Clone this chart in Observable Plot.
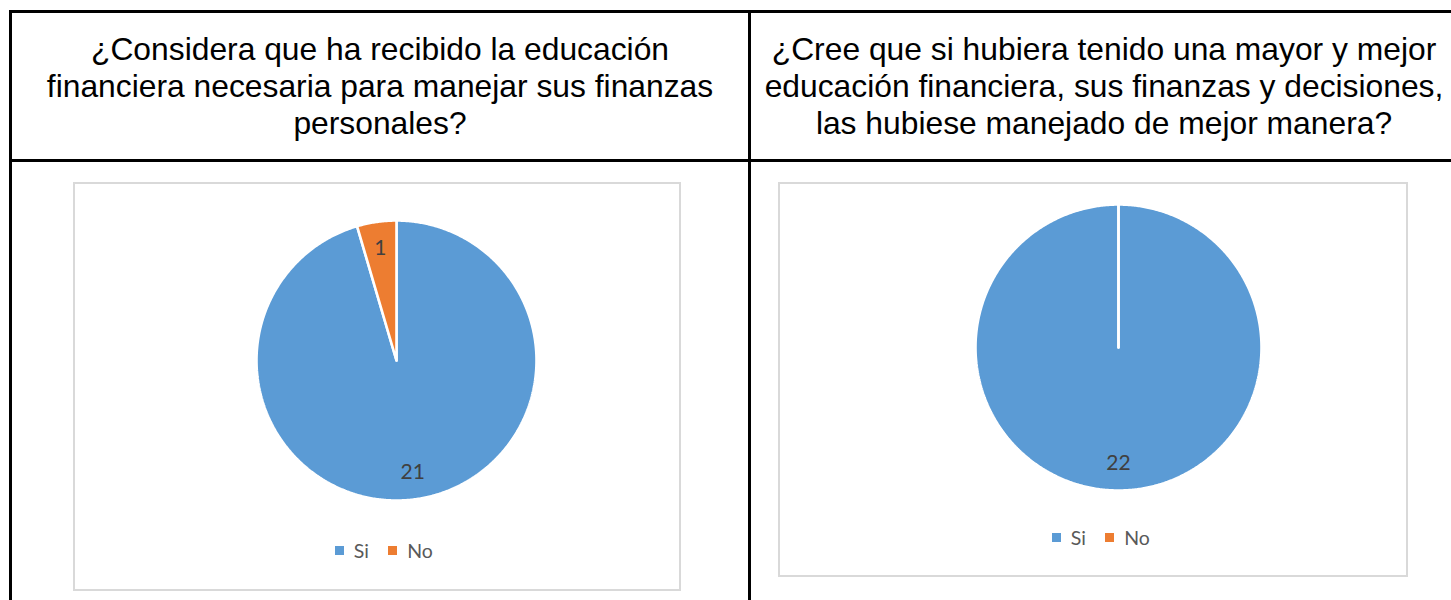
<!DOCTYPE html>
<html>
<head>
<meta charset="utf-8">
<script src="https://cdn.jsdelivr.net/npm/d3@7"></script>
<script src="https://cdn.jsdelivr.net/npm/@observablehq/plot@0.6"></script>
<style>
  html, body { margin: 0; padding: 0; background: #fff; }
  body { width: 1451px; height: 600px; overflow: hidden; position: relative; }
  .rule { position: absolute; background: #000; }
  .head { position: absolute; top: 13px; height: 146px; display: flex; align-items: center; justify-content: center;
          text-align: center; font-family: "Liberation Sans", Arial, sans-serif; font-size: 31.8px; line-height: 37px;
          color: #000; white-space: nowrap; }
  .box { position: absolute; border: 2px solid #d9d9d9; box-sizing: border-box; }
  .pie { position: absolute; }
  .leg { position: absolute; }
</style>
</head>
<body>
<script>
// ---- data ----
const categories = ["Si", "No"];
const colors = ["#5B9BD5", "#ED7D31"];
const questions = [
  ["¿Considera que ha recibido la educación", "financiera necesaria para manejar sus finanzas", "personales?"],
  ["¿Cree que si hubiera tenido una mayor y mejor", "educación financiera, sus finanzas y decisiones,", "las hubiese manejado de mejor manera?"]
];
const valuesChart1 = [21, 1];
const valuesChart2 = [22, 0];

// ---- table layout ----
function rule(l, t, w, h) {
  const d = document.createElement("div");
  d.className = "rule";
  Object.assign(d.style, {left: l + "px", top: t + "px", width: w + "px", height: h + "px"});
  document.body.appendChild(d);
}
rule(9, 10, 1460, 3);   // top
rule(9, 10, 3, 600);    // left
rule(748, 10, 3, 600);  // middle
rule(9, 159, 1460, 3);  // row divider

function header(lines, left, width) {
  const d = document.createElement("div");
  d.className = "head";
  d.style.left = left + "px";
  d.style.width = width + "px";
  d.innerHTML = lines.map(s => s.replace(/&/g, "&amp;")).join("<br>");
  document.body.appendChild(d);
}
header(questions[0], 12, 736);
header(questions[1], 751, 706);

// ---- pie charts ----
function slices(values) {
  const total = d3.sum(values);
  const rows = [];
  const labels = [];
  let a0 = 0;
  values.forEach((v, i) => {
    const a1 = a0 + (v / total) * 2 * Math.PI;
    const n = Math.max(2, Math.ceil((a1 - a0) / (Math.PI / 360)));
    rows.push({cat: categories[i], x: 0, y: 0});
    for (let k = 0; k <= n; k++) {
      const a = a0 + (a1 - a0) * k / n;
      rows.push({cat: categories[i], x: Math.sin(a), y: Math.cos(a)});
    }
    rows.push({cat: categories[i], x: 0, y: 0});
    if (v > 0) {
      const m = (a0 + a1) / 2;
      labels.push({cat: categories[i], value: v, x: 0.81 * Math.sin(m), y: 0.81 * Math.cos(m)});
    }
    a0 = a1;
  });
  return {rows, labels};
}

function pieChart(values, cx, cy, r) {
  const pad = 6;
  const size = 2 * (r + pad);
  const ext = (r + pad) / r;
  const {rows, labels} = slices(values);
  const chart = Plot.plot({
    width: size, height: size,
    margin: 0,
    x: {domain: [-ext, ext], axis: null},
    y: {domain: [-ext, ext], axis: null},
    color: {domain: categories, range: colors},
    style: {background: "transparent", overflow: "visible"},
    marks: [
      Plot.line(rows, {x: "x", y: "y", z: "cat", fill: "cat", stroke: "white", strokeWidth: 2.6,
                       strokeLinejoin: "miter", curve: "linear"}),
      Plot.text(labels, {x: "x", y: "y", text: d => String(d.value), fill: "#404040",
                         fontSize: 21, fontFamily: "Lato, 'Open Sans', sans-serif"})
    ]
  });
  chart.classList.add("pie");
  chart.style.left = (cx - r - pad) + "px";
  chart.style.top = (cy - r - pad) + "px";
  document.body.appendChild(chart);
}

function box(l, t, w, h) {
  const d = document.createElement("div");
  d.className = "box";
  Object.assign(d.style, {left: l + "px", top: t + "px", width: w + "px", height: h + "px"});
  document.body.appendChild(d);
}

function legend(left, top) {
  const lg = Plot.legend({
    color: {domain: categories, range: colors},
    swatchSize: 9,
    style: {fontFamily: "Lato, 'Open Sans', sans-serif", fontSize: "19.5px", color: "#595959", margin: 0}
  });
  const w = document.createElement("div");
  w.className = "leg";
  w.style.left = left + "px";
  w.style.top = top + "px";
  w.appendChild(lg);
  document.body.appendChild(w);
}

box(73, 182, 608, 409);
box(778, 182, 630, 395);
pieChart(valuesChart1, 396, 360, 140);
pieChart(valuesChart2, 1118, 347, 143);
legend(335, 534);
legend(1052, 521);
</script>
</body>
</html>
